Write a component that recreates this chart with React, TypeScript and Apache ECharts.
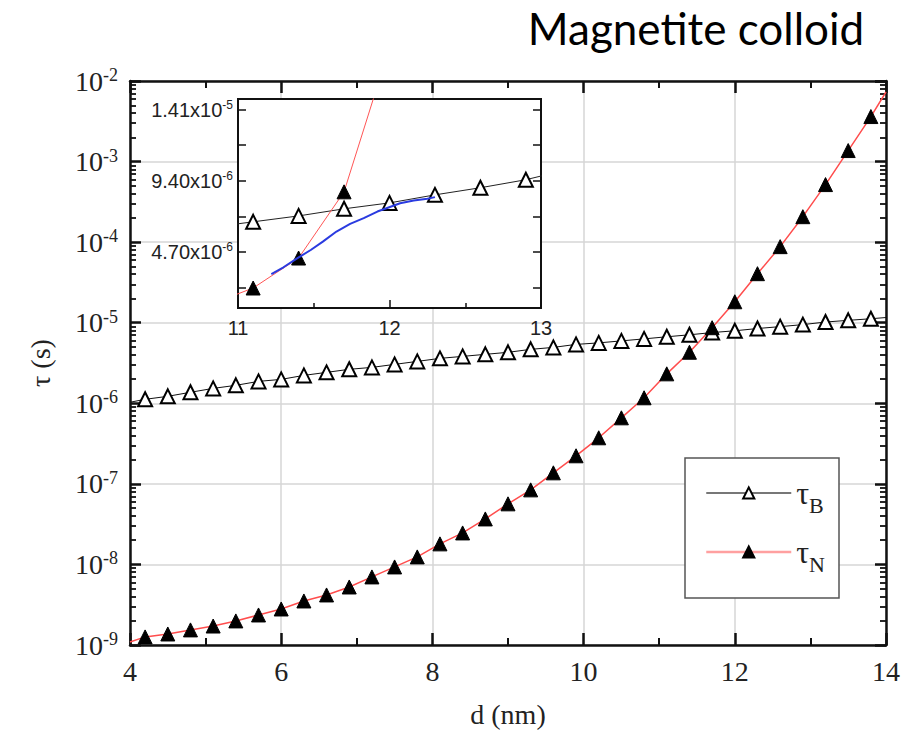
import React, { useEffect, useRef } from 'react';
import * as echarts from 'echarts';

// particle diameter d (nm) at the marker positions
const dValues = [4.2, 4.5, 4.8, 5.1, 5.4, 5.7, 6.0, 6.3, 6.6, 6.9, 7.2, 7.5, 7.8, 8.1, 8.4, 8.7, 9.0,
  9.3, 9.6, 9.9, 10.2, 10.5, 10.8, 11.1, 11.4, 11.7, 12.0, 12.3, 12.6, 12.9, 13.2, 13.5, 13.8];
// Brownian relaxation time (s)
const tauB = [1.12e-6, 1.22e-6, 1.37e-6, 1.53e-6, 1.67e-6, 1.87e-6, 1.98e-6, 2.22e-6, 2.42e-6, 2.64e-6,
  2.79e-6, 3.04e-6, 3.31e-6, 3.61e-6, 3.82e-6, 4.05e-6, 4.29e-6, 4.67e-6, 4.94e-6, 5.38e-6,
  5.62e-6, 5.95e-6, 6.30e-6, 6.69e-6, 7.08e-6, 7.55e-6, 7.94e-6, 8.47e-6, 8.94e-6, 9.47e-6,
  1.02e-5, 1.07e-5, 1.12e-5];
// Néel relaxation time (s)
const tauN = [1.26e-9, 1.37e-9, 1.54e-9, 1.72e-9, 1.99e-9, 2.36e-9, 2.80e-9, 3.52e-9, 4.18e-9, 5.25e-9,
  7.00e-9, 9.31e-9, 1.24e-8, 1.80e-8, 2.46e-8, 3.67e-8, 5.65e-8, 8.42e-8, 1.37e-7, 2.23e-7,
  3.73e-7, 6.60e-7, 1.17e-6, 2.32e-6, 4.30e-6, 8.67e-6, 1.82e-5, 4.06e-5, 8.79e-5, 2.07e-4,
  5.18e-4, 1.37e-3, 3.62e-3];
// curve ends at the axis frame (d = 4 and d = 14)
const lineEndD = [4.0, 14.0];
const tauBEnds = [1.03e-6, 1.16e-5];
const tauNEnds = [1.09e-9, 7.3e-3];
// blue curve in the inset
const blueD = [11.22, 11.30, 11.39, 11.48, 11.56, 11.65, 11.74, 11.83, 11.92, 11.98, 12.07, 12.16, 12.25, 12.30];
const blueTau = [3.24e-6, 3.69e-6, 4.28e-6, 4.83e-6, 5.38e-6, 6.05e-6, 6.55e-6, 6.93e-6, 7.37e-6, 7.59e-6,
  7.92e-6, 8.10e-6, 8.21e-6, 8.32e-6];

// axis ticks
const xMinorTicks = [5, 7, 9, 11, 13];
const insetXMinorTicks = [11.5, 12.5];
const decadeExps = [-9, -8, -7, -6, -5, -4, -3];
const minorMantissas = [2, 3, 4, 5, 6, 7, 8, 9];
// minor log ticks expressed in decades (log10 space) for a plain value axis
const yMinorLogTicks: number[] = [];
decadeExps.forEach((e) => minorMantissas.forEach((m) => yMinorLogTicks.push(e + Math.log10(m))));
const insetYTicks = [2.35e-6, 4.7e-6, 7.05e-6, 9.4e-6, 1.175e-5, 1.41e-5];
const insetYLabels = [4.7e-6, 9.4e-6, 1.41e-5];

const SERIF = '"Liberation Serif", "Times New Roman", serif';
const SANS = '"Liberation Sans", Arial, sans-serif';
const INK = '#111';

function withEnds(vals: number[], ends: number[]) {
  const pts: any[] = [{ value: [lineEndD[0], ends[0]], symbol: 'none' }];
  dValues.forEach((d, i) => pts.push([d, vals[i]]));
  pts.push({ value: [lineEndD[1], ends[1]], symbol: 'none' });
  return pts;
}

export default function App() {
  const ref = useRef<HTMLDivElement>(null);
  useEffect(() => {
    if (!ref.current) return;
    const chart = echarts.init(ref.current, undefined, { renderer: 'svg' });
    const majorTick = (len: number) => ({ show: true, inside: true, length: len, lineStyle: { color: INK, width: 2.5 } });
    const minorTick = (vals: number[], len: number, w = 2) => ({
      show: true, inside: true, length: len, customValues: vals, lineStyle: { color: INK, width: w },
    });
    const axisLine = () => ({ show: true, lineStyle: { color: INK, width: 2.5 } });
    const noLine = () => ({ show: false });
    const noLabel = () => ({ show: false });
    const noSplit = () => ({ show: false });
    const grid = () => ({ show: true, lineStyle: { color: '#d6d6d6', width: 1.5 } });
    const supRich = {
      b: { fontSize: 28, fontFamily: SERIF, color: '#222', lineHeight: 30 },
      s: { fontSize: 18, fontFamily: SERIF, color: '#222', verticalAlign: 'top', lineHeight: 18 },
    };
    const insetRich = {
      b: { fontSize: 20, fontFamily: SANS, color: '#222', lineHeight: 22 },
      s: { fontSize: 12, fontFamily: SANS, color: '#222', verticalAlign: 'top', lineHeight: 12 },
    };
    const mainX = { type: 'value', gridIndex: 0, min: 4, max: 14 };
    const logY = { type: 'log', logBase: 10, min: 1e-9, max: 1e-2, gridIndex: 0 };
    const logSpaceY = { type: 'value', min: -9, max: -2, gridIndex: 0 };
    const insetX = { type: 'value', gridIndex: 1, min: 11, max: 13 };
    const insetY = { type: 'value', gridIndex: 1, min: 1.0e-6, max: 1.48e-5 };
    const triB = { color: '#fff', borderColor: '#000', borderWidth: 2 };
    const triN = { color: '#000', borderColor: '#000', borderWidth: 1 };

    chart.setOption({
      animation: false,
      grid: [
        { left: 130, top: 81, width: 756, height: 564, show: false },
        { left: 238, top: 99, width: 303, height: 209, show: true, backgroundColor: '#fff', borderColor: INK, borderWidth: 2, z: 5 },
      ],
      xAxis: [
        // 0: grid lines only
        { ...mainX, interval: 2, position: 'bottom', z: 0, axisLine: noLine(), axisTick: { show: false }, axisLabel: noLabel(), splitLine: grid() },
        // 1: labelled bottom axis
        {
          ...mainX, interval: 2, position: 'bottom', z: 2,
          axisLine: axisLine(), axisTick: majorTick(12), splitLine: noSplit(),
          axisLabel: { fontFamily: SERIF, fontSize: 28, color: '#222', margin: 12 },
          name: 'd (nm)', nameLocation: 'middle', nameGap: 55,
          nameTextStyle: { fontFamily: SERIF, fontSize: 28, color: '#222' },
        },
        // 2: top mirror
        { ...mainX, interval: 2, position: 'top', z: 2, axisLine: axisLine(), axisTick: majorTick(12), splitLine: noSplit(), axisLabel: noLabel() },
        // 3,4: minor ticks
        { ...mainX, position: 'bottom', z: 2, axisTick: minorTick(xMinorTicks, 7), axisLine: noLine(), axisLabel: noLabel(), splitLine: noSplit() },
        { ...mainX, position: 'top', z: 2, axisTick: minorTick(xMinorTicks, 7), axisLine: noLine(), axisLabel: noLabel(), splitLine: noSplit() },
        // 5: inset bottom
        {
          ...insetX, interval: 1, position: 'bottom', z: 6, axisLine: noLine(),
          axisTick: { show: true, inside: true, length: 8, lineStyle: { color: INK, width: 1.5 } },
          splitLine: noSplit(),
          axisLabel: { fontFamily: SANS, fontSize: 20, color: '#222', margin: 10 },
        },
        // 6: inset minor
        { ...insetX, position: 'bottom', z: 6, axisTick: minorTick(insetXMinorTicks, 5, 1.5), axisLine: noLine(), axisLabel: noLabel(), splitLine: noSplit() },
      ],
      yAxis: [
        // 0: decade grid lines only
        { ...logY, position: 'left', z: 0, axisLine: noLine(), axisTick: { show: false }, axisLabel: noLabel(), splitLine: grid() },
        // 1: labelled left axis
        {
          ...logY, position: 'left', z: 2, axisLine: axisLine(), axisTick: majorTick(11), splitLine: noSplit(),
          axisLabel: {
            margin: 12,
            formatter: (v: number) => `{b|10}{s|${Math.round(Math.log10(v))}}`,
            rich: supRich,
          },
        },
        // 2: right mirror
        { ...logY, position: 'right', z: 2, axisLine: axisLine(), axisTick: majorTick(11), axisLabel: noLabel(), splitLine: noSplit() },
        // 3,4: minor log ticks
        { ...logSpaceY, position: 'left', z: 2, axisTick: minorTick(yMinorLogTicks, 6, 1.8), axisLine: noLine(), axisLabel: noLabel(), splitLine: noSplit() },
        { ...logSpaceY, position: 'right', z: 2, axisTick: minorTick(yMinorLogTicks, 6, 1.8), axisLine: noLine(), axisLabel: noLabel(), splitLine: noSplit() },
        // 5: inset left
        {
          ...insetY, position: 'left', z: 6, axisLine: noLine(),
          axisTick: { show: true, inside: true, length: 8, customValues: insetYTicks, lineStyle: { color: INK, width: 1.5 } },
          splitLine: noSplit(),
          axisLabel: {
            customValues: insetYLabels, margin: 5,
            formatter: (v: number) => {
              const e = Math.floor(Math.log10(v));
              return `{b|${(v / Math.pow(10, e)).toFixed(2)}x10}{s|${e}}`;
            },
            rich: insetRich,
          },
        },
        // 6: inset right
        {
          ...insetY, position: 'right', z: 6, axisLine: noLine(),
          axisTick: { show: true, inside: true, length: 8, customValues: insetYTicks, lineStyle: { color: INK, width: 1.5 } },
          splitLine: noSplit(), axisLabel: noLabel(),
        },
      ],
      legend: {
        orient: 'vertical', left: 700, top: 472, itemWidth: 85, itemHeight: 14, itemGap: 20,
        selectedMode: false, z: 5,
        data: [
          { name: 'tauB', lineStyle: { color: '#777', width: 2 } },
          { name: 'tauN', lineStyle: { color: '#ffa0a0', width: 2.5 } },
        ],
        formatter: (n: string) => (n === 'tauB' ? '{t|τ}{s|B}' : '{t|τ}{s|N}'),
        textStyle: {
          rich: {
            t: { fontSize: 32, fontFamily: SERIF, color: '#222', lineHeight: 30 },
            s: { fontSize: 22, fontFamily: SERIF, color: '#222', padding: [24, 0, 0, 0] },
          },
        },
      },
      graphic: [
        {
          type: 'rect', z: 4, shape: { x: 685, y: 458, width: 154, height: 140 },
          style: { fill: '#fff', stroke: '#555', lineWidth: 1.5 },
        },
        {
          type: 'text', x: 696, y: 28, z: 5,
          style: { text: 'Magnetite colloid', fontSize: 44, fontFamily: 'Lato, "Open Sans", sans-serif', fill: '#000',
            textAlign: 'center', textVerticalAlign: 'middle', align: 'center', verticalAlign: 'middle' },
        },
        {
          type: 'text', x: 40, y: 363, rotation: Math.PI / 2, z: 5,
          style: { text: 'τ (s)', fontSize: 28, fontFamily: SERIF, fill: '#222',
            textAlign: 'center', textVerticalAlign: 'middle', align: 'center', verticalAlign: 'middle' },
        },
      ],
      series: [
        {
          name: 'tauB', type: 'line', xAxisIndex: 1, yAxisIndex: 1, z: 3,
          data: withEnds(tauB, tauBEnds), symbol: 'triangle', symbolSize: 14,
          itemStyle: triB, lineStyle: { color: '#111', width: 1 },
        },
        {
          name: 'tauN', type: 'line', xAxisIndex: 1, yAxisIndex: 1, z: 3,
          data: withEnds(tauN, tauNEnds), symbol: 'triangle', symbolSize: 14,
          itemStyle: triN, lineStyle: { color: '#ff4d4d', width: 1.5 },
        },
        {
          name: 'insetB', type: 'line', xAxisIndex: 5, yAxisIndex: 5, z: 10, clip: true,
          data: dValues.map((d, i) => [d, tauB[i]]), symbol: 'triangle', symbolSize: 14,
          itemStyle: triB, lineStyle: { color: '#222', width: 1 },
        },
        {
          name: 'insetN', type: 'line', xAxisIndex: 5, yAxisIndex: 5, z: 10, clip: true,
          data: dValues.map((d, i) => [d, tauN[i]]), symbol: 'triangle', symbolSize: 14,
          itemStyle: triN, lineStyle: { color: '#ff5555', width: 1 },
        },
        {
          name: 'insetBlue', type: 'line', xAxisIndex: 5, yAxisIndex: 5, z: 11, clip: true,
          data: blueD.map((d, i) => [d, blueTau[i]]), showSymbol: false, symbol: 'none',
          lineStyle: { color: '#2a3be0', width: 2 },
        },
      ],
    });
    return () => chart.dispose();
  }, []);
  return <div ref={ref} style={{ position: 'absolute', left: 0, top: 0, width: 910, height: 745 }} />;
}
